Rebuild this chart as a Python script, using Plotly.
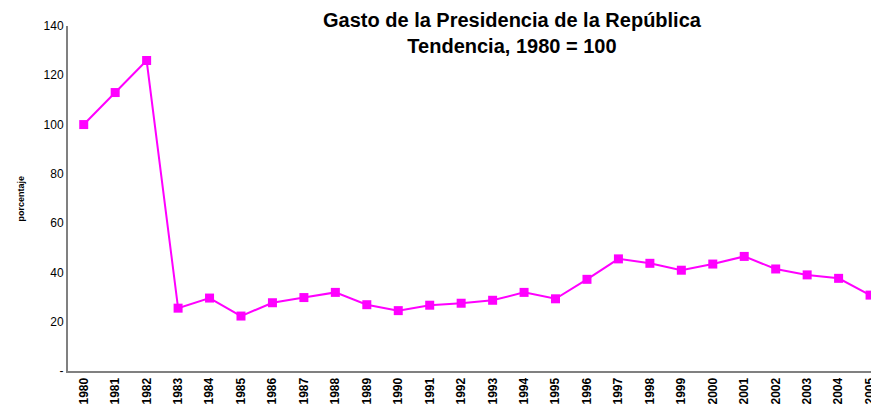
import plotly.graph_objects as go

years = [str(y) for y in range(1980, 2006)]
values = [100, 113, 126, 25.5, 29.6, 22.3, 27.7, 29.8, 31.9, 26.9, 24.5, 26.7, 27.5,
          28.7, 31.9, 29.3, 37.2, 45.5, 43.7, 40.9, 43.4, 46.5, 41.4, 39.0, 37.6, 30.8]
y_tickvals = [0, 20, 40, 60, 80, 100, 120, 140]
y_ticktext = ["-", "20", "40", "60", "80", "100", "120", "140"]

FONT = "Liberation Sans, Arial, sans-serif"

fig = go.Figure()
fig.add_trace(go.Scatter(
    x=list(range(len(years))), y=values, mode="lines+markers",
    line=dict(color="#FF00FF", width=2),
    marker=dict(symbol="square", size=9, color="#FF00FF"),
    showlegend=False, cliponaxis=False,
))

fig.update_layout(
    width=871, height=409,
    margin=dict(l=68, r=0, t=26, b=38),
    paper_bgcolor="white", plot_bgcolor="white",
    font=dict(family=FONT, color="black"),
    xaxis=dict(
        tickmode="array", tickvals=list(range(len(years))), ticktext=years,
        range=[-0.5, 25.03], tickangle=-90, showgrid=False, zeroline=False,
        showline=True, linecolor="#808080", linewidth=2,
        tickfont=dict(size=12, family=FONT, weight="bold"),
        ticks="", ticklen=0, automargin=False, ticklabeloverflow="allow",
    ),
    yaxis=dict(
        range=[0, 140], tickmode="array", tickvals=y_tickvals, ticktext=y_ticktext,
        showgrid=False, zeroline=False, showline=True, linecolor="#808080", linewidth=2,
        tickfont=dict(size=12), ticks="", ticklen=0, automargin=False,
    ),
)

fig.add_annotation(
    text="<b>porcentaje</b>", textangle=-90,
    xref="paper", yref="paper", x=0, y=0.5, xshift=-48,
    xanchor="center", yanchor="middle", showarrow=False,
    font=dict(size=9, family=FONT, color="black"),
)

fig.add_annotation(
    text="<b>Gasto de la Presidencia de la República<br>Tendencia, 1980 = 100</b>",
    xref="paper", yref="paper", x=(512 - 68) / (871 - 68), y=1.0,
    xanchor="center", yanchor="middle", showarrow=False,
    font=dict(size=20, family=FONT, color="black"),
    yshift=-7,
)

fig.write_html(
    "out.html",
    config={"responsive": False, "displayModeBar": False},
    post_script="document.body.style.margin='0';document.body.style.overflow='hidden';",
)
